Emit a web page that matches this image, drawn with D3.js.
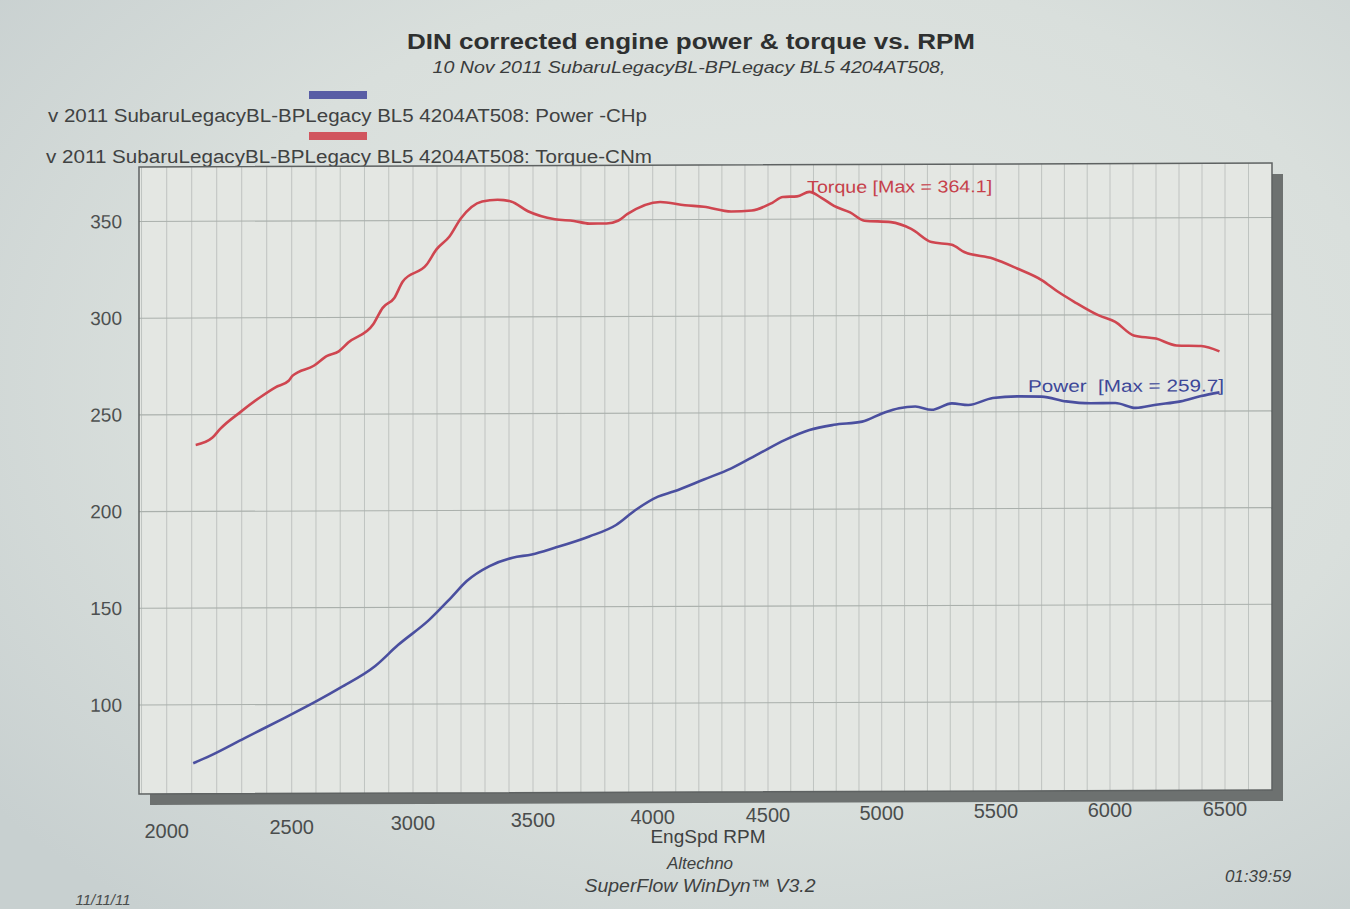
<!DOCTYPE html>
<html>
<head>
<meta charset="utf-8">
<script src="https://cdn.jsdelivr.net/npm/d3@7"></script>
<style>
  html, body { margin: 0; padding: 0; overflow: hidden; }
  body { width: 1350px; height: 909px; }
  svg { display: block; font-family: "Liberation Sans", Arial, sans-serif; }
</style>
</head>
<body>
<svg id="chart" width="1350" height="909"></svg>
<script>
// ---------------- DATA ----------------
const titleText = "DIN corrected engine power & torque vs. RPM";
const subtitleText = "10 Nov 2011 SubaruLegacyBL-BPLegacy BL5 4204AT508,";
const legendLabels = [
  "v 2011 SubaruLegacyBL-BPLegacy BL5 4204AT508: Power -CHp",
  "v 2011 SubaruLegacyBL-BPLegacy BL5 4204AT508: Torque-CNm"
];
const xTickValues = [2000, 2500, 3000, 3500, 4000, 4500, 5000, 5500, 6000, 6500];
const yTickValues = [100, 150, 200, 250, 300, 350];
const xAxisTitle = "EngSpd RPM";

const rpmTorque = [2116, 2182, 2213, 2297, 2374, 2435, 2488, 2504, 2591, 2646,
  2694, 2733, 2836, 2875, 2923, 2958, 3057, 3097, 3152, 3200,
  3288, 3352, 3408, 3479, 3591, 3671, 3735, 3807, 3855, 3895,
  4032, 4140, 4222, 4341, 4430, 4519, 4565, 4628, 4682, 4735, 4790,
  4861, 4924, 5040, 5129, 5218, 5307, 5361, 5486, 5593, 5700,
  5772, 5843, 5951, 6023, 6103, 6200, 6289, 6396, 6476];
const torqueNm = [234.3, 238.0, 242.5, 251.5, 258.9, 264.0, 267.4, 270.0, 275.1, 280.2,
  282.5, 287.0, 296.4, 304.9, 310.0, 318.5, 327.2, 334.9, 341.7, 351.1,
  359.7, 360.6, 359.7, 354.6, 350.4, 349.5, 348.1, 348.1, 349.5, 353.0,
  359.1, 357.4, 356.6, 354.1, 354.6, 358.5, 361.5, 361.8, 364.1, 361.0, 356.8,
  353.4, 349.1, 348.3, 344.8, 337.9, 336.5, 332.7, 329.3, 324.1, 318.1,
  312.0, 306.8, 299.7, 296.3, 289.3, 287.6, 284.0, 283.7, 280.9];

const rpmPower = [2106, 2175, 2312, 2466, 2606, 2701, 2843, 2938, 3065, 3160,
  3224, 3319, 3415, 3495, 3591, 3735, 3847, 3927, 4023, 4090,
  4222, 4341, 4463, 4573, 4682, 4790, 4914, 5004, 5076, 5147,
  5218, 5307, 5379, 5486, 5593, 5700, 5808, 5915, 6023, 6112,
  6200, 6307, 6396, 6476];
const powerCHp = [69.8, 73.7, 82.7, 92.7, 101.9, 108.6, 119.6, 130.5, 143.2, 155.1,
  163.5, 171.2, 175.5, 177.1, 180.5, 186.3, 192.2, 199.8, 206.8, 209.4,
  215.6, 221.3, 229.0, 235.8, 241.0, 243.6, 245.2, 249.5, 252.1, 252.9,
  251.2, 254.5, 253.6, 257.2, 258.0, 257.8, 255.3, 254.3, 254.4, 251.8,
  253.4, 255.1, 257.8, 259.7];

// ---------------- LAYOUT ----------------
const W = 1350, H = 909;
const plotL = 139, plotR = 1272, plotT = 165, plotB = 792;
const cx = (plotL + plotR) / 2;
const skew = -0.0035;
const colTorque = "#cf4650", colPower = "#4a4f9f";

const svg = d3.select("#chart");
const defs = svg.append("defs");
const bg = defs.append("radialGradient").attr("id", "paper")
  .attr("cx", "58%").attr("cy", "42%").attr("r", "75%");
bg.append("stop").attr("offset", "0%").attr("stop-color", "#e3e7e4");
bg.append("stop").attr("offset", "60%").attr("stop-color", "#d9dfdc");
bg.append("stop").attr("offset", "100%").attr("stop-color", "#c8d0d0");
svg.append("rect").attr("width", W).attr("height", H).attr("fill", "url(#paper)");

// Scales: x uses piecewise mapping matching the photographed axis spacing
const xScale = d3.scaleLinear()
  .domain([1890].concat(xTickValues, [6700]))
  .range([plotL, 166.7, 291.7, 413, 533, 652.7, 768, 881.7, 996, 1110, 1225, plotR]);
const yScale = d3.scaleLinear().domain([100, 350]).range([703, 219.5]);

// Title block
svg.append("text").attr("x", 691).attr("y", 49).attr("text-anchor", "middle")
  .attr("font-size", 22.5).attr("font-weight", "bold").attr("fill", "#2e3030")
  .attr("textLength", 568).attr("lengthAdjust", "spacingAndGlyphs").text(titleText);
svg.append("text").attr("x", 689).attr("y", 73).attr("text-anchor", "middle")
  .attr("font-size", 16.5).attr("font-style", "italic").attr("fill", "#3a3c3c")
  .attr("textLength", 513).attr("lengthAdjust", "spacingAndGlyphs").text(subtitleText);

// Legend
const legendColors = [colPower, colTorque];
const legendRows = [{sy: 91, ty: 122, x: 48, len: 599}, {sy: 132, ty: 163, x: 46, len: 606}];
legendLabels.forEach((lab, i) => {
  svg.append("rect").attr("x", 309).attr("y", legendRows[i].sy).attr("width", 58).attr("height", 8)
    .attr("fill", legendColors[i]).attr("opacity", 0.9);
  svg.append("text").attr("x", legendRows[i].x).attr("y", legendRows[i].ty)
    .attr("font-size", 18).attr("fill", "#404242")
    .attr("textLength", legendRows[i].len).attr("lengthAdjust", "spacingAndGlyphs").text(lab);
});

// Plot group (slight skew to follow the photographed page)
const g = svg.append("g").attr("transform", `matrix(1,${skew},0,1,0,${-skew * cx})`);
g.append("rect").attr("x", plotL + 11).attr("y", plotT + 11)
  .attr("width", plotR - plotL).attr("height", plotB - plotT).attr("fill", "#6d7170");
g.append("rect").attr("x", plotL).attr("y", plotT)
  .attr("width", plotR - plotL).attr("height", plotB - plotT).attr("fill", "#e4e7e3");

// Grid
const vGrid = d3.range(1900, 6700, 100);
g.append("g").selectAll("line").data(vGrid).join("line")
  .attr("x1", d => xScale(d)).attr("x2", d => xScale(d))
  .attr("y1", plotT).attr("y2", plotB)
  .attr("stroke", "#b7bcb9").attr("stroke-width", 1).attr("opacity", 0.8);
g.append("g").selectAll("line").data(yTickValues).join("line")
  .attr("x1", plotL).attr("x2", plotR)
  .attr("y1", d => yScale(d)).attr("y2", d => yScale(d))
  .attr("stroke", "#aab0ac").attr("stroke-width", 1.1);

// Border
g.append("rect").attr("x", plotL).attr("y", plotT)
  .attr("width", plotR - plotL).attr("height", plotB - plotT)
  .attr("fill", "none").attr("stroke", "#5e6262").attr("stroke-width", 1.5);

// Y axis labels
const yAxis = d3.axisLeft(yScale).tickValues(yTickValues).tickSize(0).tickPadding(17);
const ya = g.append("g").attr("transform", `translate(${plotL},0)`).call(yAxis);
ya.select(".domain").remove();
ya.selectAll("text").attr("font-size", 19).attr("fill", "#4d5050")
  .attr("font-family", "Liberation Sans, Arial, sans-serif");

// Curves
const line = d3.line().curve(d3.curveMonotoneX).x(d => xScale(d[0])).y(d => yScale(d[1]));
const torquePts = rpmTorque.map((r, i) => [r, torqueNm[i]]);
const powerPts = rpmPower.map((r, i) => [r, powerCHp[i]]);
g.append("path").datum(torquePts).attr("d", line).attr("fill", "none")
  .attr("stroke", colTorque).attr("stroke-width", 2.6).attr("stroke-linejoin", "round");
g.append("path").datum(powerPts).attr("d", line).attr("fill", "none")
  .attr("stroke", colPower).attr("stroke-width", 2.6).attr("stroke-linejoin", "round");

// Curve annotations
const torqueMax = d3.max(torqueNm), powerMax = d3.max(powerCHp);
g.append("text").attr("x", xScale(4672)).attr("y", yScale(torqueMax) + 1)
  .attr("font-size", 17).attr("fill", "#c63f4a")
  .attr("textLength", 185).attr("lengthAdjust", "spacingAndGlyphs")
  .text(`Torque [Max = ${torqueMax.toFixed(1)}]`);
g.append("text").attr("x", xScale(5640)).attr("y", yScale(powerMax) - 1)
  .attr("font-size", 17).attr("fill", "#3d4898").attr("xml:space", "preserve")
  .attr("textLength", 196).attr("lengthAdjust", "spacingAndGlyphs")
  .text(`Power  [Max = ${powerMax.toFixed(1)}]`);

// X tick labels (follow photographed tilt)
const labY = x => 816 + 21.5 * Math.pow(Math.max(0, (1225 - x) / 1058), 1.6);
svg.append("g").selectAll("text").data(xTickValues).join("text")
  .attr("x", d => xScale(d)).attr("y", d => labY(xScale(d)))
  .attr("text-anchor", "middle").attr("font-size", 20).attr("fill", "#4a4d4d")
  .text(d => d);
svg.append("text").attr("x", 708).attr("y", 843).attr("text-anchor", "middle")
  .attr("font-size", 19).attr("fill", "#3e4141").text(xAxisTitle);

// Footer
svg.append("text").attr("x", 700).attr("y", 869).attr("text-anchor", "middle")
  .attr("font-size", 17).attr("font-style", "italic").attr("fill", "#3e4141").text("Altechno");
svg.append("text").attr("x", 700).attr("y", 892).attr("text-anchor", "middle")
  .attr("font-size", 18).attr("font-style", "italic").attr("fill", "#3e4141")
  .attr("textLength", 231).attr("lengthAdjust", "spacingAndGlyphs").text("SuperFlow WinDyn™ V3.2");
svg.append("text").attr("x", 1258).attr("y", 882).attr("text-anchor", "middle")
  .attr("font-size", 17).attr("font-style", "italic").attr("fill", "#3e4141").text("01:39:59");
svg.append("text").attr("x", 103).attr("y", 905).attr("text-anchor", "middle")
  .attr("font-size", 15).attr("font-style", "italic").attr("fill", "#4a4d4d").text("11/11/11");
</script>
</body>
</html>
